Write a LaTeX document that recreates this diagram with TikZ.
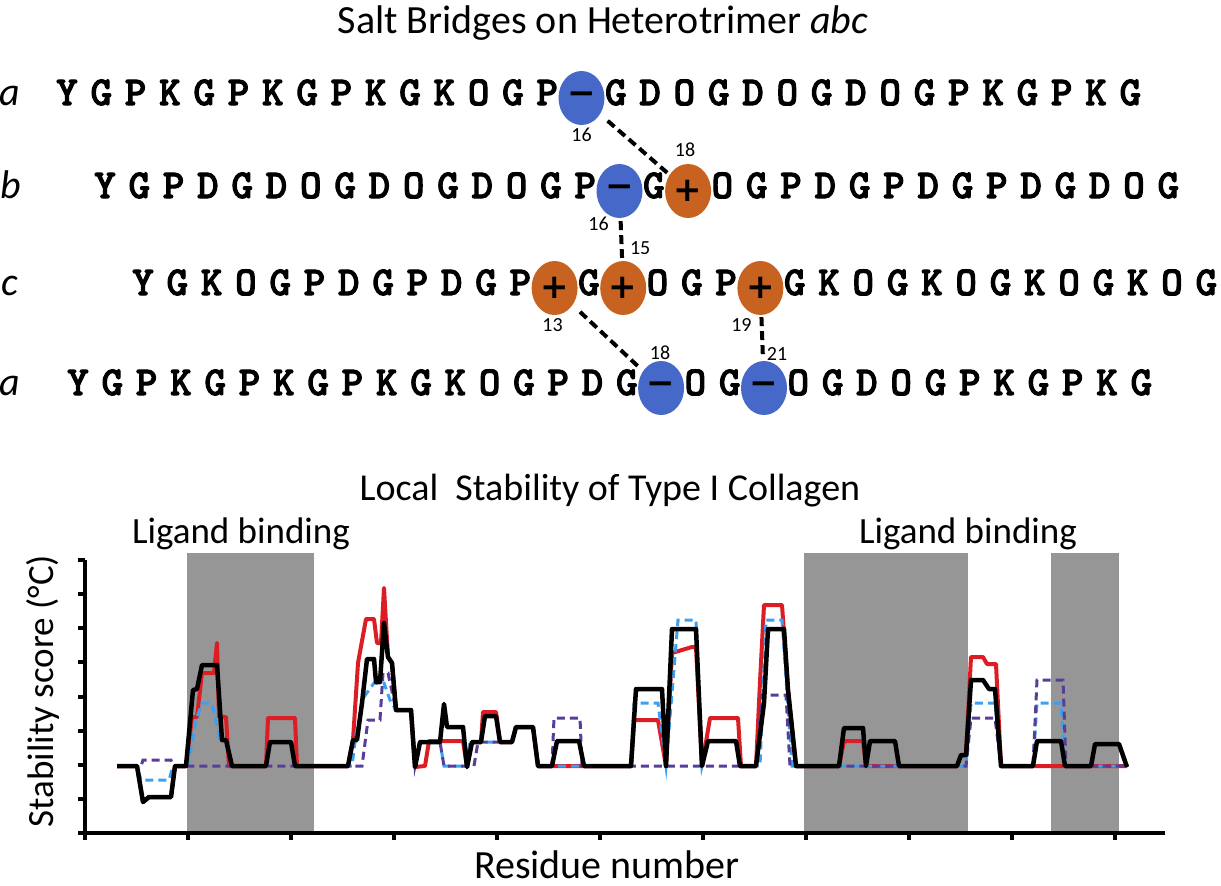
\documentclass[tikz,border=0pt]{standalone}
\usepackage{fontspec}
\setmainfont{Carlito}
\newfontfamily\signfont{DejaVu Sans}
\newfontfamily\seqfont{lmmonolt10-bold.otf}[FakeBold=2.5]
\usetikzlibrary{shapes.geometric,positioning}

\definecolor{negblue}{RGB}{70,104,200}
\definecolor{posorange}{RGB}{200,98,32}
\definecolor{bandgray}{RGB}{150,150,150}
\definecolor{curvered}{RGB}{220,30,36}
\definecolor{curveblue}{RGB}{60,160,240}
\definecolor{curvepurple}{RGB}{88,62,152}

\tikzset{
  res/.style={anchor=base,inner sep=0pt,font=\seqfont\fontsize{41}{41}\selectfont},
  charge/.style={ellipse,minimum width=46pt,minimum height=54pt,inner sep=0pt,
    font=\signfont\bfseries\fontsize{34}{34}\selectfont},
  negres/.style={charge,fill=negblue},
  posres/.style={charge,fill=posorange},
  bridge/.style={line width=4pt,dash pattern=on 9pt off 5pt},
  num/.style={inner sep=0pt,font=\fontsize{20}{20}\selectfont},
  strand/.style={anchor=base,inner sep=0pt,font=\itshape\fontsize{40}{40}\selectfont},
  heading/.style={anchor=base,inner sep=0pt,font=\fontsize{40}{40}\selectfont},
  tag/.style={anchor=base,inner sep=0pt,font=\fontsize{37}{37}\selectfont},
  band/.style={fill=bandgray},
  axis/.style={line width=4pt},
  redline/.style={curvered,line width=4pt,line join=round},
  blueline/.style={curveblue,line width=3pt,dash pattern=on 8pt off 5pt},
  purpleline/.style={curvepurple,line width=3pt,dash pattern=on 8pt off 5pt},
  blackline/.style={black,line width=4.5pt,line join=round}
}

% one strand: name, first x, baseline, residues (- and + are charged)
\newcommand\strandrow[4]{%
  \foreach \r [count=\i] in {#4}{%
    \if\r-\else\if\r+\else
      \node[res] (#1-\i) at ({#2+(\i-1)*34.3},#3) {\r};
    \fi\fi}%
  \foreach \r [count=\i] in {#4}{%
    \if\r-\node[negres] (#1-\i) at ({#2+(\i-1)*34.3},#3-7) {−};\fi
    \if\r+\node[posres] (#1-\i) at ({#2+(\i-1)*34.3},#3-7) {+};\fi}}

\begin{document}
\begin{tikzpicture}[x=1pt,y=-1pt]
\useasboundingbox (0,0) rectangle (1221,886);

% salt bridges
\node[heading] (title) at (603,33) {Salt Bridges on Heterotrimer \textit{abc}};

\node[strand] (la) at (10,105) {a};
\node[strand] (lb) at (11,198) {b};
\node[strand] (lc) at (10,295) {c};
\node[strand] (la2) at (10,395) {a};

\strandrow{a}{67}{105}{Y,G,P,K,G,P,K,G,P,K,G,K,O,G,P,-,G,D,O,G,D,O,G,D,O,G,P,K,G,P,K,G}
\strandrow{b}{105}{198}{Y,G,P,D,G,D,O,G,D,O,G,D,O,G,P,-,G,+,O,G,P,D,G,P,D,G,P,D,G,D,O,G}
\strandrow{c}{143}{295}{Y,G,K,O,G,P,D,G,P,D,G,P,+,G,+,O,G,P,+,G,K,O,G,K,O,G,K,O,G,K,O,G}
\strandrow{a2}{78}{395}{Y,G,P,K,G,P,K,G,P,K,G,K,O,G,P,D,G,-,O,G,-,O,G,D,O,G,P,K,G,P,K,G}

\draw[bridge,shorten <=10pt,shorten >=2pt] (a-16) -- (b-18);
\draw[bridge,shorten <=3pt,shorten >=3pt] (b-16) -- (c-15);
\draw[bridge,shorten <=10pt,shorten >=5pt] (c-13) -- (a2-18);
\draw[bridge,shorten <=2pt,shorten >=2pt] (c-19) -- (a2-21);

\node[num] (n-a16) at ([yshift=-10pt]a-16.south) {16};
\node[num] (n-b18) at ([xshift=-3pt,yshift=14pt]b-18.north) {18};
\node[num] (n-b16) at ([xshift=-21pt,yshift=-6pt]b-16.south) {16};
\node[num] (n-c15) at ([xshift=17pt,yshift=13pt]c-15.north) {15};
\node[num] (n-c13) at ([xshift=-2pt,yshift=-10pt]c-13.south) {13};
\node[num] (n-c19) at ([xshift=-19pt,yshift=-10pt]c-19.south) {19};
\node[num] (n-a218) at ([xshift=-1pt,yshift=8pt]a2-18.north) {18};
\node[num] (n-a221) at ([xshift=13pt,yshift=7pt]a2-21.north) {21};

% stability profile
\node[heading,font=\fontsize{38}{38}\selectfont] (ptitle) at (610,500) {Local~ Stability of Type I Collagen};
\node[tag] (lig1) at (241,543) {Ligand binding};
\node[tag] (lig2) at (968,543) {Ligand binding};

\fill[band] (187,553) rectangle (314,833);
\fill[band] (804,553) rectangle (968,833);
\fill[band] (1051,553) rectangle (1119,833);

\draw[redline] plot coordinates {(117,766) (137,766) (143,802) (149,797) (171,797) (175,766) (186,766)
  (192,717) (197,717) (202,673) (214,673) (217,643) (219,717) (226,717) (229,766) (266,766) (268,718)
  (295,718) (297,766) (348,766) (353,740) (358,663) (366,619) (374,619) (377,643) (381,643) (384,588)
  (388,657) (392,663) (396,710) (411,710) (415,767) (425,766) (429,741) (463,741) (467,767) (472,742)
  (481,742) (483,712) (496,712) (500,742) (512,742) (516,727) (533,727) (538,766) (631,766) (634,720)
  (658,720) (666,766) (672,653) (692,647) (696,647) (702,766) (710,718) (738,718) (741,766) (756,766)
  (760,682) (764,605) (782,605) (788,690) (796,766) (839,766) (844,741) (863,741) (866,766) (957,766)
  (961,755) (966,755) (971,657) (983,657) (987,664) (996,664) (1001,766) (1127,766)};
\draw[blueline] plot coordinates {(117,766) (137,766) (141,780) (169,780) (173,766) (188,766) (196,720)
  (202,703) (212,703) (220,740) (226,740) (232,766) (266,766) (270,742) (291,742) (295,766) (352,766)
  (356,734) (364,697) (374,683) (384,683) (390,700) (396,710) (411,710) (415,766) (420,742) (440,742)
  (444,766) (466,766) (470,742) (512,742) (516,727) (533,727) (538,766) (631,766) (634,703) (658,703)
  (666,766) (678,620) (696,620) (702,766) (708,741) (736,741) (740,766) (760,766) (766,620) (782,620)
  (792,766) (966,766) (971,703) (995,703) (1001,766) (1033,766) (1037,703) (1061,703) (1065,766)
  (1127,766)};
\draw[purpleline] plot coordinates {(117,766) (141,766) (143,760) (171,760) (173,766) (362,766) (368,720)
  (380,720) (383,673) (388,673) (396,710) (411,710) (415,766) (420,742) (440,742) (444,766) (474,766)
  (478,742) (512,742) (516,727) (533,727) (538,766) (552,766) (554,718) (580,718) (582,766) (756,766)
  (762,695) (786,695) (790,766) (966,766) (971,718) (995,718) (1001,766) (1033,766) (1037,680)
  (1063,680) (1066,766) (1127,766)};
\draw[blackline] plot coordinates {(117,766) (137,766) (143,802) (149,797) (171,797) (175,766) (186,766)
  (193,690) (197,689) (202,665) (217,665) (222,740) (226,740) (232,766) (266,766) (270,742) (291,742)
  (295,766) (348,766) (353,740) (357,740) (362,703) (367,659) (374,659) (376,682) (380,682) (384,623)
  (388,657) (392,663) (396,710) (411,710) (415,767) (420,742) (440,742) (444,704) (447,727) (463,727)
  (467,767) (472,742) (481,742) (485,716) (496,716) (500,742) (512,742) (516,727) (533,727) (538,766)
  (552,766) (557,741) (579,741) (584,766) (631,766) (636,689) (662,689) (666,766) (672,629) (696,629)
  (702,766) (708,741) (736,741) (740,766) (756,766) (764,703) (768,629) (784,629) (788,690) (796,766)
  (839,766) (844,728) (863,728) (866,766) (870,741) (895,741) (899,766) (957,766) (961,755) (966,755)
  (971,680) (983,680) (989,689) (995,689) (1001,766) (1033,766) (1037,741) (1061,741) (1065,766)
  (1091,766) (1095,744) (1119,744) (1127,767)};

\draw[axis] (85,560) -- (85,840);
\draw[axis] (78,833) -- (1165,833);
\foreach \k in {0,...,7} \draw[axis] (78,{560+\k*34.125}) -- (85,{560+\k*34.125});
\foreach \k in {1,...,10} \draw[axis] ({85+\k*103},833) -- ({85+\k*103},840);

\node[tag,rotate=90] (ylab) at (53,691) {Stability score (°C)};
\node[heading] (xlab) at (607,878) {Residue number};
\end{tikzpicture}
\end{document}
